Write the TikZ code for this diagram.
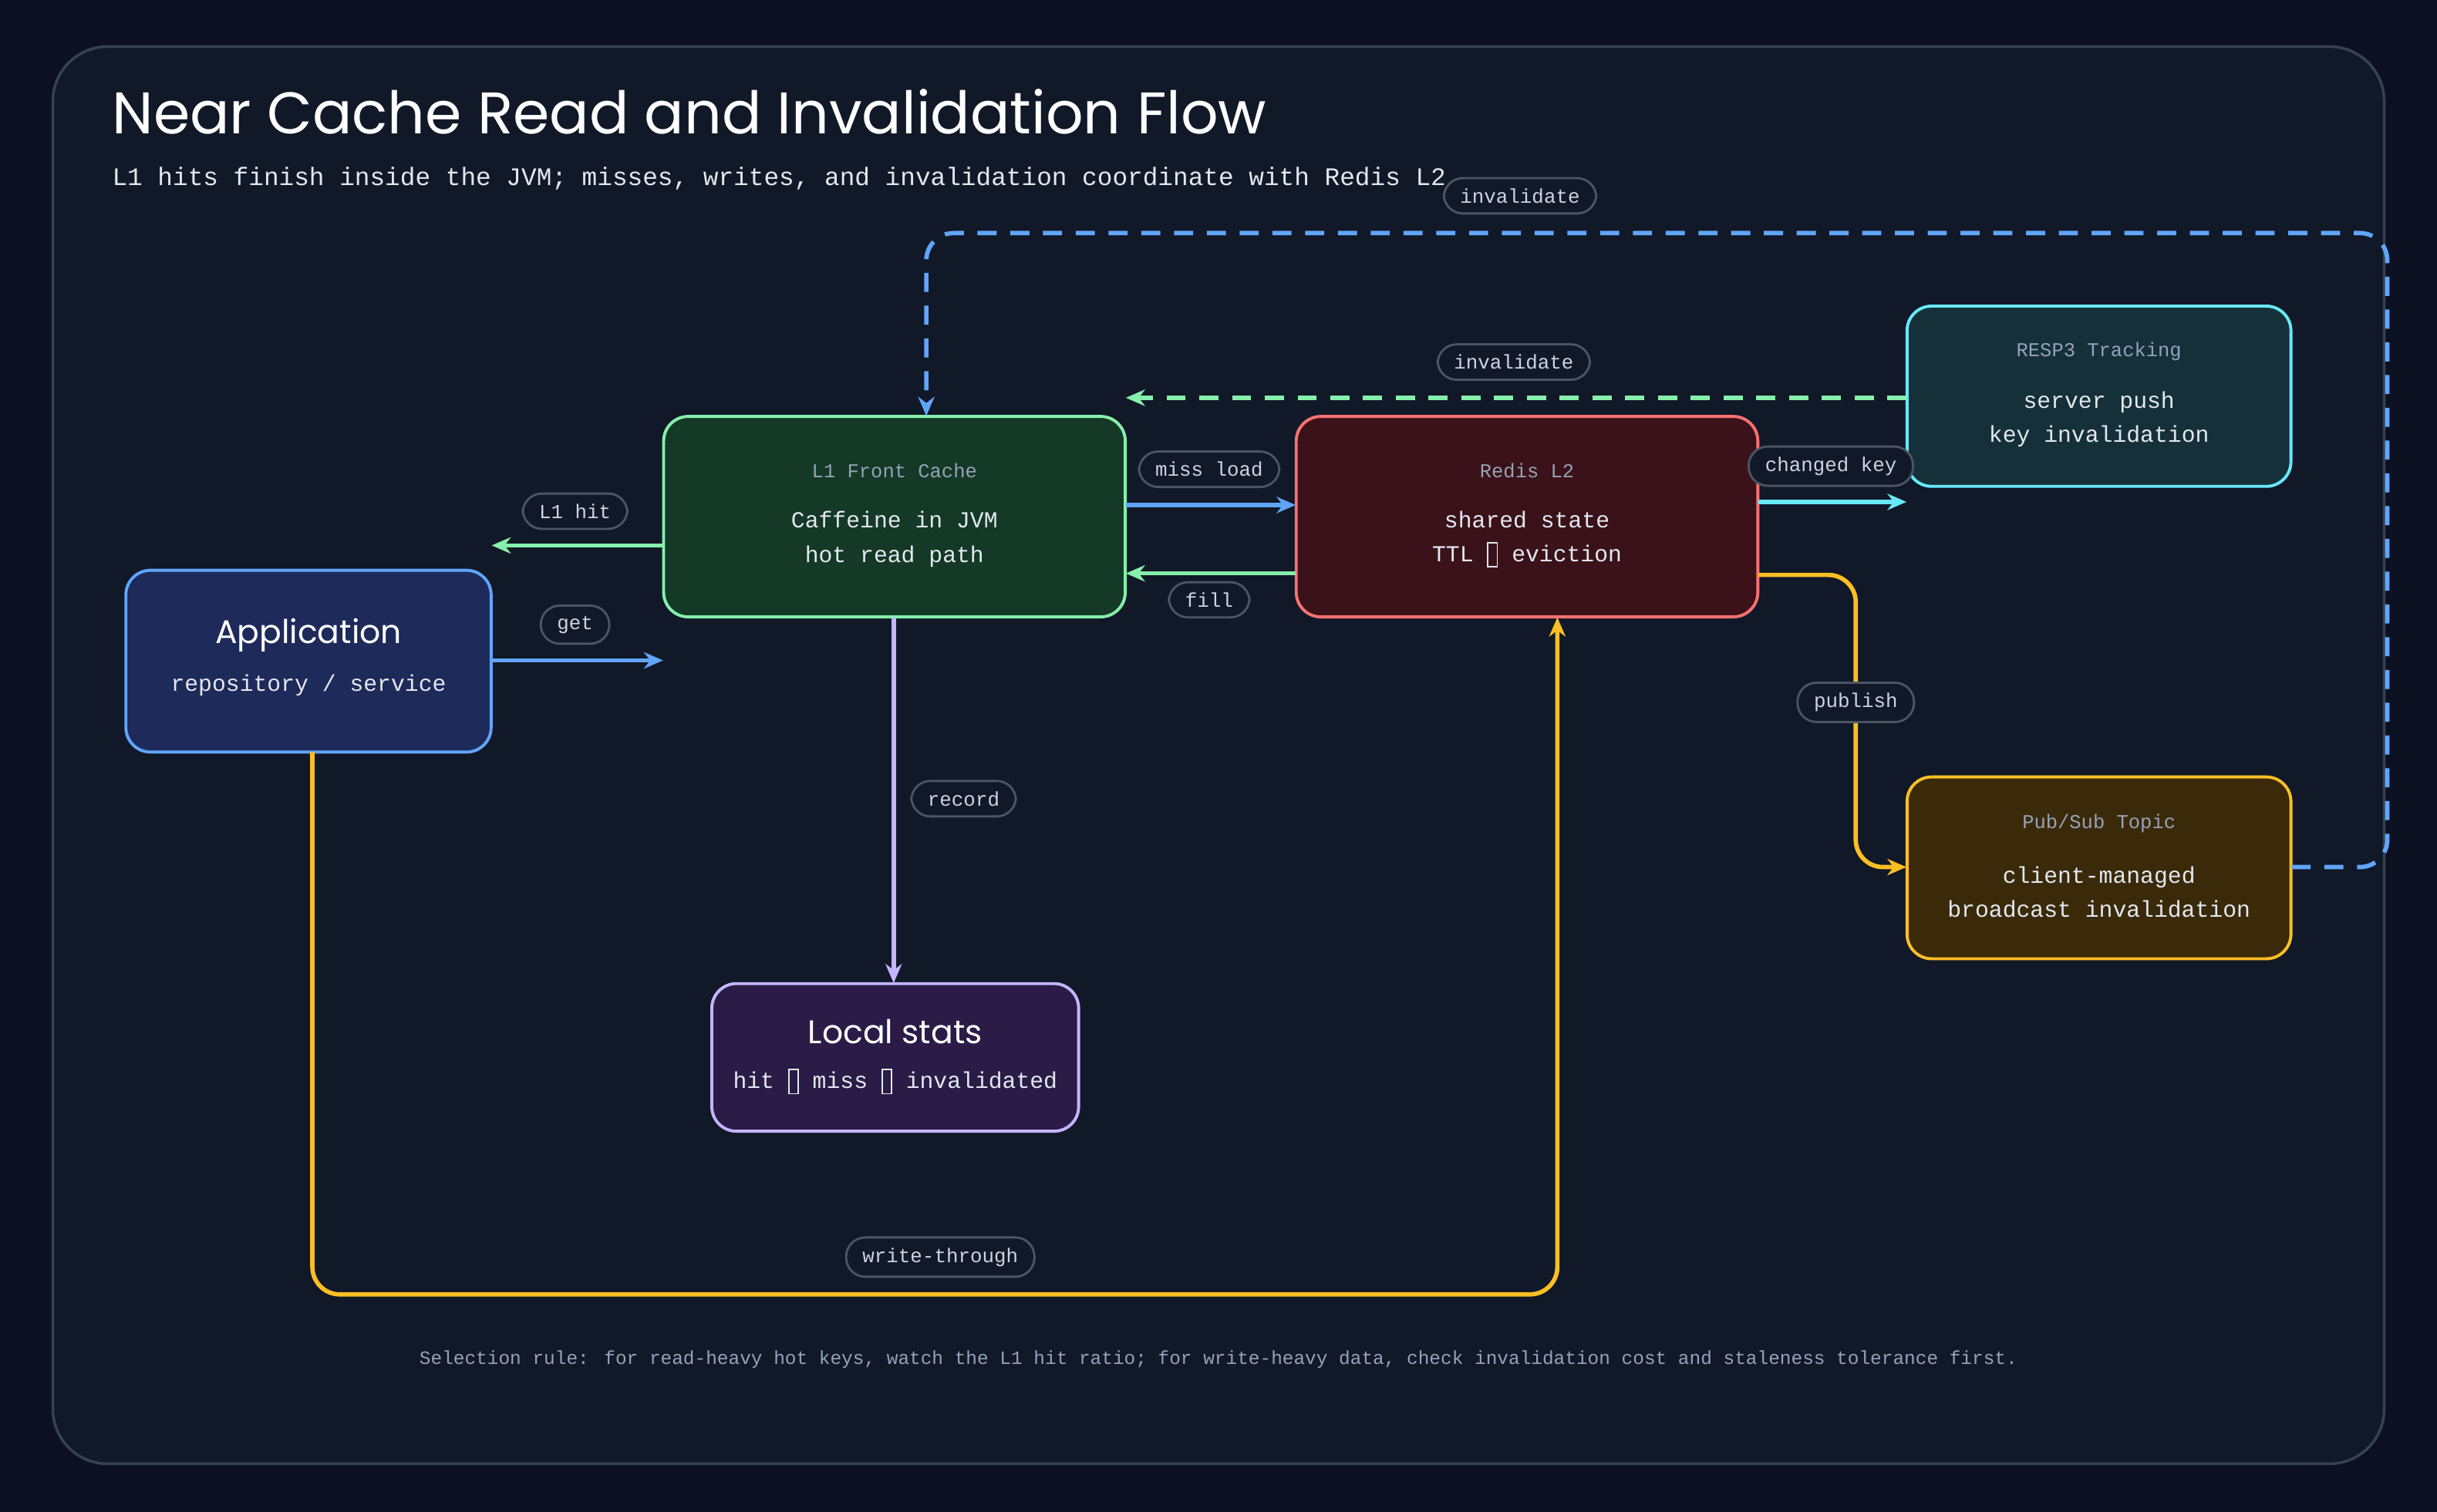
\documentclass[tikz,border=0pt]{standalone}
\usepackage{fontspec}
\setmainfont{Liberation Mono}
\newfontfamily\headfont{Poppins}
\usetikzlibrary{arrows.meta}
\definecolor{pagebg}{HTML}{0B1120}
\definecolor{framebg}{HTML}{111827}
\definecolor{frameline}{HTML}{374151}
\definecolor{pilline}{HTML}{4B5563}
\definecolor{pilltext}{HTML}{CBD5E1}
\definecolor{softtext}{HTML}{94A3B8}
\definecolor{maintext}{HTML}{E2E8F0}
\definecolor{cblue}{HTML}{60A5FA}
\definecolor{cgreen}{HTML}{86EFAC}
\definecolor{cred}{HTML}{F87171}
\definecolor{ccyan}{HTML}{67E8F9}
\definecolor{cyellow}{HTML}{FBBF24}
\definecolor{cpurple}{HTML}{C4B5FD}
\newcommand{\tofubox}{{\fboxsep0pt\fboxrule0.5pt\raisebox{-0.2em}{\fbox{\rule{0.35em}{0pt}\rule{0pt}{1em}}}}}
\tikzset{
        card/.style={draw, line width=1.1pt, rounded corners=9pt, align=center,
                text=maintext, font=\fontsize{8.4}{12.5}\selectfont},
        pill/.style={draw=pilline, fill=framebg, line width=0.8pt, rounded corners=7pt,
                text=pilltext, font=\fontsize{7.3}{9}\selectfont, inner xsep=6pt, inner ysep=3.8pt},
        flow/.style={line width=1.6pt, -{Stealth[length=7pt,width=6pt]}},
        smalltag/.style={text=softtext, font=\fontsize{7.2}{9}\selectfont}
}

\begin{document}
\begin{tikzpicture}[x=0.02cm, y=-0.02cm]
                        \fill[pagebg] (0,0) rectangle (1568,973);
                        \useasboundingbox (0,0) rectangle (1568,973);
                        \draw[frameline, fill=framebg, line width=1pt, rounded corners=20pt] (34,30) rectangle (1534,942);

                        \node[anchor=west, text=white, font=\headfont\fontsize{21.5}{26}\selectfont] (title) at (66,72) {Near Cache Read and Invalidation Flow};
                        \node[anchor=west, text=maintext, font=\fontsize{9.25}{12}\selectfont] (subtitle) at (66,115) {L1 hits finish inside the JVM; misses, writes, and invalidation coordinate with Redis L2};

                        % boxes
                        \draw[card, draw=cblue, fill={rgb,255:red,30;green,42;blue,90}] (81,367) rectangle (316,484);
                        \node (app) at (198.5,425.5) [minimum width=235*0.02cm, minimum height=117*0.02cm] {};
                        \node[text=white, font=\headfont\fontsize{12}{14}\selectfont] (apptitle) at (198.5,409) {Application};
                        \node[text=maintext, font=\fontsize{8.4}{11}\selectfont] (appsub) at (198.5,441) {repository / service};

                        \draw[card, draw=cgreen, fill={rgb,255:red,20;green,57;blue,38}] (427,268) rectangle (724,397);
                        \node (lone) at (575.5,332.5) [minimum width=297*0.02cm, minimum height=129*0.02cm] {};
                        \node[smalltag] (lonetag) at (575.5,303) {L1 Front Cache};
                        \node[card, draw=none] (lonetxt) at (575.5,347) {Caffeine in JVM\\hot read path};

                        \draw[card, draw=cred, fill={rgb,255:red,59;green,18;blue,25}] (834,268) rectangle (1131,397);
                        \node (redis) at (982.5,332.5) [minimum width=297*0.02cm, minimum height=129*0.02cm] {};
                        \node[smalltag] (redistag) at (982.5,303) {Redis L2};
                        \node[card, draw=none] (redistxt) at (982.5,347) {shared state\\TTL \tofubox{} eviction};

                        \draw[card, draw=ccyan, fill={rgb,255:red,22;green,48;blue,57}] (1227,197) rectangle (1474,313);
                        \node (resp) at (1350.5,255) [minimum width=247*0.02cm, minimum height=116*0.02cm] {};
                        \node[smalltag] (resptag) at (1350.5,226) {RESP3 Tracking};
                        \node[card, draw=none] (resptxt) at (1350.5,270) {server push\\key invalidation};

                        \draw[card, draw=cyellow, fill={rgb,255:red,59;green,42;blue,10}] (1227,500) rectangle (1474,617);
                        \node (pubsub) at (1350.5,558.5) [minimum width=247*0.02cm, minimum height=117*0.02cm] {};
                        \node[smalltag] (pubsubtag) at (1350.5,530) {Pub/Sub Topic};
                        \node[card, draw=none] (pubsubtxt) at (1350.5,574) {client-managed\\broadcast invalidation};

                        \draw[card, draw=cpurple, fill={rgb,255:red,42;green,27;blue,71}] (458,633) rectangle (694,728);
                        \node (stats) at (576,680.5) [minimum width=236*0.02cm, minimum height=95*0.02cm] {};
                        \node[text=white, font=\headfont\fontsize{12}{14}\selectfont] (statstitle) at (576,664) {Local stats};
                        \node[text=maintext, font=\fontsize{8.4}{11}\selectfont] (statssub) at (576,696) {hit \tofubox{} miss \tofubox{} invalidated};

                        % connectors
                        \coordinate (hitrow) at (0,351);
                        \coordinate (getrow) at (0,425);
                        \coordinate (missrow) at (0,325);
                        \coordinate (fillrow) at (0,369);
                        \coordinate (keyrow) at (0,323);
                        \coordinate (pushrow) at (0,256);
                        \coordinate (pubrow) at (0,370);
                        \coordinate (topicrow) at (0,558);
                        \coordinate (wtcol) at (1002,0);
                        \coordinate (reccol) at (575,0);
                        \coordinate (invcol) at (596,0);

                        \draw[flow, cgreen] (lone.west |- hitrow) -- (app.east |- hitrow);
                        \draw[flow, cblue] (app.east |- getrow) -- (lone.west |- getrow);
                        \draw[flow, cblue] (lone.east |- missrow) -- (redis.west |- missrow);
                        \draw[flow, cgreen] (redis.west |- fillrow) -- (lone.east |- fillrow);
                        \draw[flow, ccyan] (redis.east |- keyrow) -- (resp.west |- keyrow);
                        \draw[flow, cgreen, dash pattern=on 7pt off 5pt] (resp.west |- pushrow) -- (lone.east |- pushrow);
                        \draw[flow, cpurple] (lone.south -| reccol) -- (stats.north -| reccol);
                        \draw[flow, cyellow, rounded corners=10pt] (redis.east |- pubrow) -- (1194,370) -- (1194,558) -- (pubsub.west |- topicrow);
                        \draw[flow, cyellow, rounded corners=10pt] (201,484) -- (201,833) -- (1002,833) -- (redis.south -| wtcol);
                        \draw[flow, cblue, dash pattern=on 7pt off 5pt, rounded corners=10pt] (pubsub.east |- topicrow) -- (1536,558) -- (1536,150) -- (596,150) -- (lone.north -| invcol);

                        % labels
                        \node[pill] (lhit) at (370,329) {L1 hit};
                        \node[pill] (lget) at (370,402) {get};
                        \node[pill] (lmiss) at (778,302) {miss load};
                        \node[pill] (lfill) at (778,386) {fill};
                        \node[pill] (lkey) at (1178,300) {changed key};
                        \node[pill] (linvb) at (974,233) {invalidate};
                        \node[pill] (linva) at (978,126) {invalidate};
                        \node[pill] (lpub) at (1194,452) {publish};
                        \node[pill] (lrec) at (620,514) {record};
                        \node[pill] (lwt) at (605,809) {write-through};

                        \node[text=softtext, font=\fontsize{6.9}{9}\selectfont] (footer) at (784,875) {Selection rule: for read-heavy hot keys, watch the L1 hit ratio; for write-heavy data, check invalidation cost and staleness tolerance first.};
                    \end{tikzpicture}
\end{document}
